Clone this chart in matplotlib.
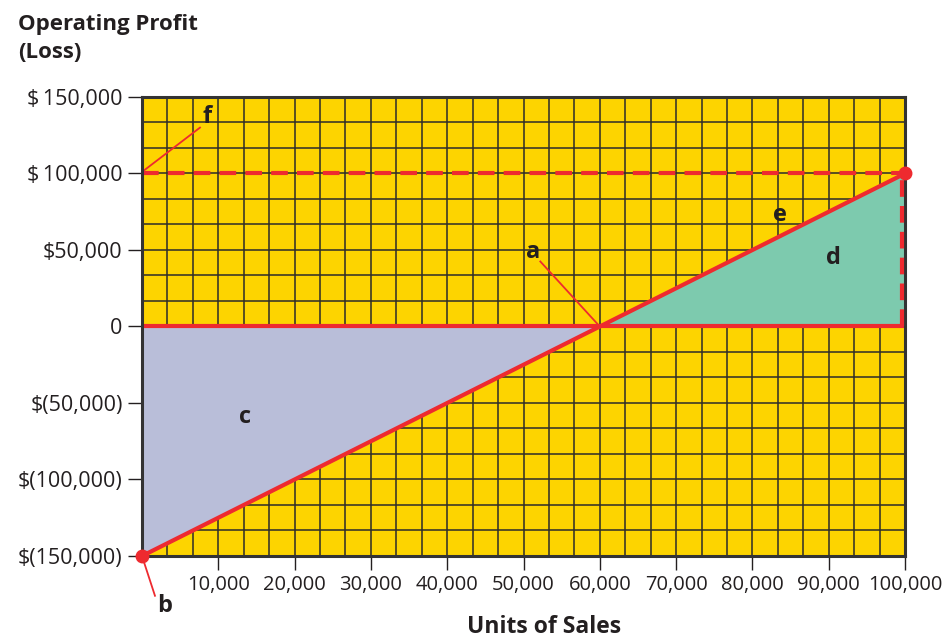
import numpy as np
import matplotlib.pyplot as plt
from matplotlib.ticker import MultipleLocator
import matplotlib.transforms as mtransforms

plt.rcParams['font.family'] = ['Open Sans', 'DejaVu Sans']

# data
units = [0, 60000, 100000]
profit = [-150000, 0, 100000]
target_profit = 100000
x_ticks = [10000, 20000, 30000, 40000, 50000, 60000, 70000, 80000, 90000, 100000]
x_labels = ['10,000', '20,000', '30,000', '40,000', '50,000', '60,000',
            '70,000', '80,000', '90,000', '100,000']
y_ticks = [150000, 100000, 50000, 0, -50000, -100000, -150000]
y_labels = ['$\u2009150,000', '$\u2009100,000', '$50,000', '0', '$(50,000)', '$(100,000)', '$(150,000)']

yellow = '#FDD400'
red = '#EE2A2F'
lavender = '#B9BED9'
teal = '#7DCAAE'
ink = '#231F20'

fig = plt.figure(figsize=(9.46, 6.39), dpi=100)
ax = fig.add_axes([0.1501, 0.1299, 0.8066, 0.7183])
ax.set_facecolor(yellow)
ax.set_xlim(0, 100000)
ax.set_ylim(-150000, 150000)

# grid
ax.xaxis.set_minor_locator(MultipleLocator(10000 / 3))
ax.yaxis.set_minor_locator(MultipleLocator(50000 / 3))
ax.grid(which='both', color='#2b2b2b', lw=1.1)
ax.set_axisbelow(True)
ax.tick_params(which='minor', length=0)

# loss / profit areas
xs = np.array(units)
ys = np.array(profit)
ax.fill_between(xs[:2], ys[:2], 0, color=lavender, zorder=2, lw=0)
ax.fill_between(xs[1:], 0, ys[1:], color=teal, zorder=2, lw=0)

# lines
ax.plot([0, 100000], [0, 0], color=red, lw=3, zorder=3, solid_capstyle='butt')
ax.plot(units, profit, color=red, lw=3, zorder=4)
ax.plot([0, 100000], [target_profit, target_profit], color=red, lw=3,
        ls=(0, (4, 2.2)), zorder=3)
shift = mtransforms.offset_copy(ax.transData, fig=fig, x=-3, y=0, units='dots')
ax.plot([100000, 100000], [0, target_profit], color=red, lw=3,
        ls=(0, (4, 2.2)), zorder=6, transform=shift)
ax.plot([units[0], units[-1]], [profit[0], profit[-1]], 'o', color=red,
        ms=9, zorder=7, clip_on=False)

# letter labels
lab = dict(fontsize=17, fontweight='bold', color=ink, ha='center', va='center')
ax.text(51200, 49000, 'a', **lab)
ax.plot([52200, 60000], [42500, 0], color=red, lw=1.3, zorder=5)
ax.text(3000, -183000, 'b', clip_on=False, **lab)
ax.plot([0, 1700], [-150000, -176000], color=red, lw=1.3, zorder=5, clip_on=False)
ax.text(13500, -59000, 'c', **lab)
ax.text(90600, 45000, 'd', **lab)
ax.text(83600, 73000, 'e', **lab)
ax.text(8500, 137000, 'f', **lab)
ax.plot([0, 7600], [101000, 130000], color=red, lw=1.3, zorder=5)

# axes
ax.set_xticks(x_ticks)
ax.set_xticklabels(x_labels, fontsize=14.5)
ax.set_yticks(y_ticks)
ax.set_yticklabels(y_labels, fontsize=15.5)
ax.tick_params(which='major', length=10, width=1, color=ink,
               labelcolor=ink, pad=4)
for s in ax.spines.values():
    s.set_linewidth(2.2)
    s.set_color('#333333')
    s.set_zorder(5)

fig.text(0.019, 0.978, 'Operating Profit\n(Loss)', fontsize=16, fontweight='bold',
         color=ink, ha='left', va='top', linespacing=1.45)
fig.text(0.575, 0.0, 'Units of Sales', fontsize=16.5, fontweight='bold',
         color=ink, ha='center', va='bottom')

fig.savefig('out.png', dpi=100)
